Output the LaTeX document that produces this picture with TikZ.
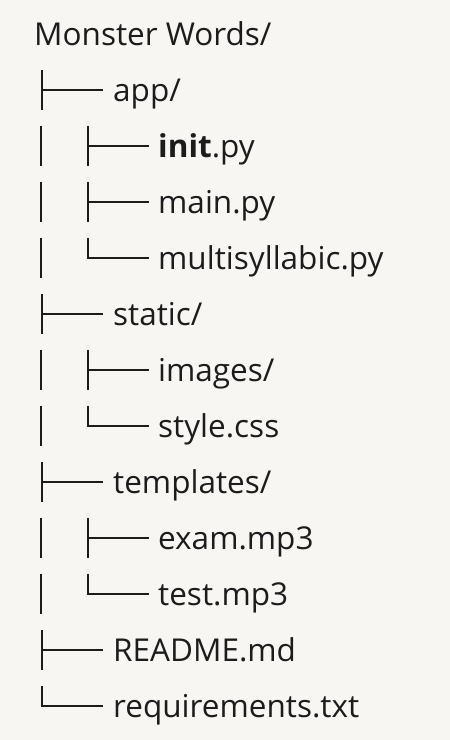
\documentclass[tikz,border=0pt]{standalone}
\usepackage{fontspec}
\setmainfont{Open Sans}
\definecolor{bg}{HTML}{F7F6F3}
\definecolor{ink}{HTML}{1C1C1C}
\newcommand{\tteeA}[1]{\draw[tree] (42,#1-20) -- (42,#1+20); \draw[tree] (42,#1) -- (103,#1);}
\newcommand{\tlastA}[1]{\draw[tree] (42,#1-20) -- (42,#1+1.4); \draw[tree] (40.6,#1) -- (103,#1);}
\newcommand{\tbarA}[1]{\draw[tree] (41,#1-20) -- (41,#1+20);}
\newcommand{\tteeB}[1]{\draw[tree] (88,#1-20) -- (88,#1+20); \draw[tree] (88,#1) -- (149,#1);}
\newcommand{\tlastB}[1]{\draw[tree] (88,#1-20) -- (88,#1+1.4); \draw[tree] (86.6,#1) -- (149,#1);}
\begin{document}
\begin{tikzpicture}[x=1pt,y=-1pt,
  lbl/.style={anchor=base west,inner sep=0pt,text=ink,font=\fontsize{31.5}{32}\selectfont},
  tree/.style={draw=ink,line width=2.8pt,line cap=butt}]
\fill[bg] (0,0) rectangle (450,740);
\useasboundingbox (0,0) rectangle (450,740);
% text rows: baseline = 45 + 56 i
\node[lbl] (root) at (34,45) {Monster Words/};
\node[lbl] (app) at (113,101) {app/};
\node[lbl] (init) at (158,157) {\textbf{init}.py};
\node[lbl] (main) at (158,213) {main.py};
\node[lbl] (multi) at (158,269) {multisyllabic.py};
\node[lbl] (static) at (113,325) {static/};
\node[lbl] (images) at (158,381) {images/};
\node[lbl] (style) at (158,437) {style.css};
\node[lbl] (templates) at (113,493) {templates/};
\node[lbl] (exam) at (158,549) {exam.mp3};
\node[lbl] (test) at (158,605) {test.mp3};
\node[lbl] (readme) at (113,661) {README.md};
\node[lbl] (req) at (113,717) {requirements.txt};
% tree glyphs: centre of row i = 34 + 56 i
\tteeA{90}
\tbarA{146}\tteeB{146}
\tbarA{202}\tteeB{202}
\tbarA{258}\tlastB{258}
\tteeA{314}
\tbarA{370}\tteeB{370}
\tbarA{426}\tlastB{426}
\tteeA{482}
\tbarA{538}\tteeB{538}
\tbarA{594}\tlastB{594}
\tteeA{650}
\tlastA{706}
\end{tikzpicture}
\end{document}
